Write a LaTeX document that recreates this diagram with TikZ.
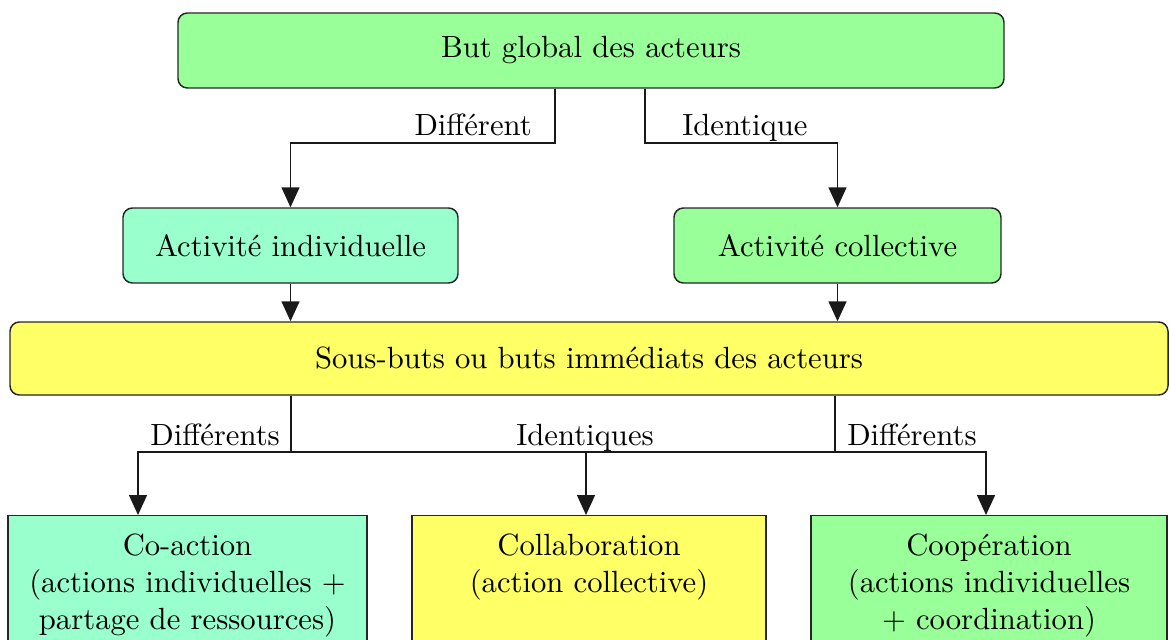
\documentclass[tikz,border=0pt]{standalone}
\usepackage{fontspec}
\setmainfont{lmroman10-regular}[Extension=.otf]
\usetikzlibrary{arrows.meta}
\definecolor{boxgreen}{HTML}{99FF99}
\definecolor{boxaqua}{HTML}{99FFCC}
\definecolor{boxyellow}{HTML}{FFFF66}
\begin{document}
\begin{tikzpicture}[x=0.75pt,y=-0.75pt,
  every node/.style={font=\fontsize{23}{27.75}\selectfont},
  goalbox/.style={draw=black!85, line width=1.1pt, rounded corners=7pt, inner sep=0pt},
  modebox/.style={draw=black!85, line width=1.1pt, anchor=north, inner sep=0pt,
                  minimum height=150pt},
  modetext/.style={anchor=north, align=center, inner sep=0pt},
  link/.style={line width=1.1pt, draw=black!90},
  arr/.style={link, -{Triangle[length=15pt,width=13.5pt]}},
  lbl/.style={inner sep=0pt}]
\useasboundingbox (0,0) rectangle (1170,639);
\clip (0,0) rectangle (1170,639);

% goal levels
\node[goalbox, fill=boxgreen, minimum width=619.5pt, minimum height=56.25pt]
  (top) at (591,50.5) {But global des acteurs};
\node[goalbox, fill=boxaqua, minimum width=251.25pt, minimum height=56.25pt]
  (indiv) at (290.5,245.5) {Activité individuelle};
\node[goalbox, fill=boxgreen, minimum width=245.25pt, minimum height=56.25pt]
  (coll) at (837.5,245.5) {Activité collective};
\node[goalbox, fill=boxyellow, minimum width=868.5pt, minimum height=54.75pt]
  (sous) at (589,358.5) {Sous-buts ou buts immédiats des acteurs};

% forms of joint work
\node[modebox, fill=boxaqua, minimum width=269.25pt] (co) at (187.5,515) {};
\node[modebox, fill=boxyellow, minimum width=265.5pt] (collab) at (589,515) {};
\node[modebox, fill=boxgreen, minimum width=267pt] (coop) at (989,515) {};
\node[modetext] (coT) at ([yshift=-14pt]co.north)
  {Co-action\\(actions individuelles +\\partage de ressources)};
\node[modetext] (collabT) at ([yshift=-14pt]collab.north)
  {Collaboration\\(action collective)};
\node[modetext] (coopT) at ([yshift=-14pt]coop.north)
  {Coopération\\(actions individuelles\\+ coordination)};

% branch points
\coordinate (d1) at (555,143);
\coordinate (d2) at (645,143);
\coordinate (jl) at (291,452);
\coordinate (jr) at (835,452);
\coordinate (tl) at (138,452);
\coordinate (tm) at (586,452);
\coordinate (tr) at (986,452);

% upper connectors
\draw[arr] (top.south -| d1) -- (d1) -| (indiv.north);
\draw[arr] (top.south -| d2) -- (d2) -| (coll.north);
\draw[arr] (indiv.south) -- (sous.north -| indiv.south);
\draw[arr] (coll.south) -- (sous.north -| coll.south);

% lower connectors
\draw[arr] (sous.south -| jl) -- (jl) -| (co.north -| tl);
\draw[arr] (jl) -- (tm) -- (collab.north -| tm);
\draw[arr] (sous.south -| jr) -- (jr) -| (coop.north -| tr);
\draw[link] (jr) -- (tm);

% branch labels
\node[lbl, anchor=base east] (lDiff) at (532,135) {Différent};
\node[lbl, anchor=base west] (lIdent) at (682,135) {Identique};
\node[lbl, anchor=base east] (lDiffs1) at (280,445) {Différents};
\node[lbl, anchor=base] (lIdents) at (585,445) {Identiques};
\node[lbl, anchor=base west] (lDiffs2) at (847,445) {Différents};
\end{tikzpicture}
\end{document}
